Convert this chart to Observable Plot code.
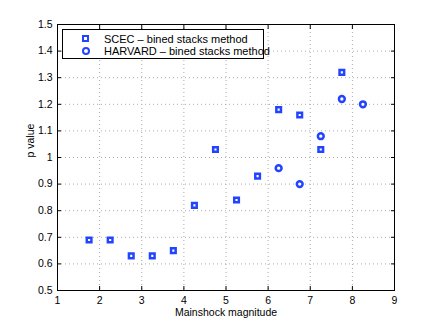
<!DOCTYPE html>
<html>
<head>
<meta charset="utf-8">
<script src="https://cdn.jsdelivr.net/npm/d3@7"></script>
<script src="https://cdn.jsdelivr.net/npm/@observablehq/plot@0.6"></script>
<style>
  html, body { margin: 0; padding: 0; background: #fff; }
  #wrap { position: relative; width: 436px; height: 327px; font-family: "Liberation Sans", Arial, sans-serif; }
  #legend { position: absolute; left: 62px; top: 29px; width: 200px; height: 28px; border: 1px solid #000; background: #fff; font-size: 11px; color: #000; }
  .row { position: absolute; left: 0; height: 12px; line-height: 12px; white-space: nowrap; }
  .mk { position: absolute; left: 19px; top: 2px; width: 3px; height: 3px; border: 2.5px solid #2244ff; box-sizing: content-box; }
  .circ { border-radius: 50%; width: 4px; height: 4px; left: 18.5px; top: 1.5px; }
  .lbl { position: absolute; left: 41px; top: 0; }
</style>
</head>
<body>
<div id="wrap"></div>
<script>
const scecMag = [1.75, 2.25, 2.75, 3.25, 3.75, 4.25, 4.75, 5.25, 5.75, 6.25, 6.75, 7.25, 7.75];
const scecP   = [0.69, 0.69, 0.63, 0.63, 0.65, 0.82, 1.03, 0.84, 0.93, 1.18, 1.16, 1.03, 1.32];
const harvMag = [6.25, 6.75, 7.25, 7.75, 8.25];
const harvP   = [0.96, 0.90, 1.08, 1.22, 1.20];
const xTicks = [1, 2, 3, 4, 5, 6, 7, 8, 9];
const yTicks = [0.5, 0.6, 0.7, 0.8, 0.9, 1, 1.1, 1.2, 1.3, 1.4, 1.5];
const seriesNames = ["SCEC \u2013 bined stacks method", "HARVARD \u2013 bined stacks method"];

const scec = scecMag.map((m, i) => ({m, p: scecP[i]}));
const harv = harvMag.map((m, i) => ({m, p: harvP[i]}));
const blue = "#2244ff";

const chart = Plot.plot({
  width: 436,
  height: 327,
  marginLeft: 57,
  marginRight: 42,
  marginTop: 24,
  marginBottom: 37,
  style: {fontFamily: "Liberation Sans, Arial, sans-serif", fontSize: "10.5px", color: "#000", background: "#fff"},
  x: {domain: [1, 9], ticks: xTicks},
  y: {domain: [0.5, 1.5], ticks: yTicks},
  marks: [
    Plot.gridX(xTicks.slice(1, -1), {stroke: "#aaa", strokeOpacity: 1, strokeDasharray: "1,3"}),
    Plot.gridY(yTicks.slice(1, -1), {stroke: "#aaa", strokeOpacity: 1, strokeDasharray: "1,3"}),
    Plot.axisX(xTicks, {anchor: "bottom", tickSize: -4, tickPadding: 10, label: null, tickFormat: d => String(d), fontSize: 10.5}),
    Plot.axisX(xTicks, {anchor: "top", tickSize: -4, tickFormat: () => "", label: null}),
    Plot.axisY(yTicks, {anchor: "left", tickSize: -4, tickPadding: 9, label: null, tickFormat: d => d === 1 ? "1" : d.toFixed(1), fontSize: 10.5}),
    Plot.axisY(yTicks, {anchor: "right", tickSize: -4, tickFormat: () => "", label: null}),
    Plot.frame({stroke: "#000", strokeWidth: 1}),
    Plot.dot(scec, {x: "m", y: "p", symbol: "square", r: 2.6, stroke: blue, strokeWidth: 2.5, fill: "white"}),
    Plot.dot(harv, {x: "m", y: "p", symbol: "circle", r: 2.9, stroke: blue, strokeWidth: 2.5, fill: "white"}),
    Plot.text(["Mainshock magnitude"], {frameAnchor: "bottom", dy: 25, fontSize: 10.5}),
    Plot.text(["p value"], {frameAnchor: "left", dx: -27, rotate: -90, fontSize: 10.5})
  ]
});

const wrap = document.getElementById("wrap");
wrap.appendChild(chart);
const leg = document.createElement("div");
leg.id = "legend";
leg.innerHTML = `
  <div class="row" style="top:3px"><span class="mk"></span><span class="lbl">${seriesNames[0]}</span></div>
  <div class="row" style="top:15px"><span class="mk circ"></span><span class="lbl">${seriesNames[1]}</span></div>`;
wrap.appendChild(leg);
</script>
</body>
</html>
